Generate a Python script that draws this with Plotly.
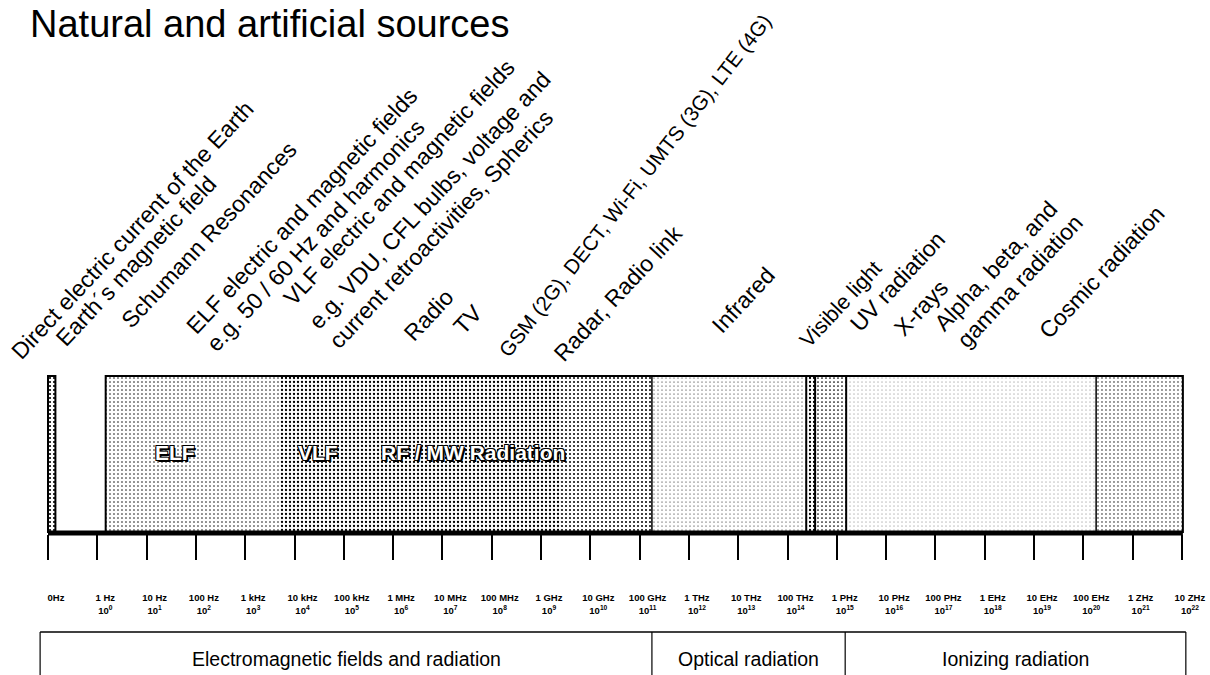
import plotly.graph_objects as go

# ---------------- data ----------------
freq_names = ["0Hz", "1 Hz", "10 Hz", "100 Hz", "1 kHz", "10 kHz", "100 kHz", "1 MHz",
              "10 MHz", "100 MHz", "1 GHz", "10 GHz", "100 GHz", "1 THz", "10 THz",
              "100 THz", "1 PHz", "10 PHz", "100 PHz", "1 EHz", "10 EHz", "100 EHz",
              "1 ZHz", "10 ZHz"]
freq_exponents = [None] + list(range(0, 23))

# spectrum zones in decade positions (0 = 0 Hz, n = 10^(n-1) Hz)
zone_start = [0.00, 1.17, 4.70, 10.40, 12.25, 15.38, 15.56, 16.19, 21.26]
zone_end = [0.15, 4.70, 10.40, 12.25, 15.38, 15.56, 16.19, 21.26, 23.02]
zone_density = [0.22, 0.12, 0.26, 0.20, 0.06, 0.25, 0.15, 0.04, 0.10]

band_names = ["ELF", "VLF", "RF / MW Radiation"]
band_pos = [2.58, 5.48, 8.62]

source_names = ["Direct electric current of the Earth", "Earth\u00b4s magnetic field",
                "Schumann Resonances", "ELF electric and magnetic fields",
                "e.g. 50 / 60 Hz and harmonics", "VLF electric and magnetic fields",
                "e.g. VDU, CFL bulbs, voltage and", "current retroactivities, Spherics",
                "Radio", "TV", "GSM (2G), DECT, Wi-Fi, UMTS (3G), LTE (4G)",
                "Radar, Radio link", "Infrared", "Visible light", "UV radiation", "X-rays",
                "Alpha, beta, and", "gamma radiation", "Cosmic radiation"]
source_pos = [-0.91, 0.00, 1.32, 2.64, 3.06, 4.62, 5.13, 5.54, 7.06, 8.07, 8.99,
              10.10, 13.31, 15.11, 16.11, 17.00, 17.81, 18.28, 19.94]

group_names = ["Electromagnetic fields and radiation", "Optical radiation", "Ionizing radiation"]
group_start = [-0.16, 12.25, 16.17]
group_end = [12.25, 16.17, 23.08]

# ---------------- layout constants ----------------
W, H = 1210, 675
X0, DX = 48.0, 49.3          # pixel of the 0 Hz tick and pixel per decade


def Y(py):                  # pixel-from-top -> y data
    return H - py


source_bottom = [367, 354, 336, 342, 359, 313, 337, 356, 349, 342, 364, 369,
                 341, 355, 339, 344, 339, 355, 346]
# per-label text size / angle (the scanned original is not perfectly uniform)
source_size = [23] * 10 + [20.5] + [23] * 2 + [21.5] + [23] * 5
source_angle = [-47] * 10 + [-52] + [-47] * 8
BOX_TOP, BASE = 376, 532
FONT = "Liberation Sans, Arial, sans-serif"

fig = go.Figure()

# stippled spectrum zones
fig.add_trace(go.Bar(
    x=[(s + e) / 2 for s, e in zip(zone_start, zone_end)],
    width=[e - s for s, e in zip(zone_start, zone_end)],
    base=[Y(BASE)] * len(zone_start),
    y=[BASE - BOX_TOP] * len(zone_start),
    marker=dict(color="white", line=dict(width=0),
                pattern=dict(shape=".", fgcolor="black", bgcolor="white",
                             size=4, solidity=zone_density, fillmode="replace")),
    hoverinfo="skip", showlegend=False))

shapes = []
line_k = dict(color="black", width=2)
# main box outline and DC box
shapes.append(dict(type="rect", xref="x", yref="y", x0=zone_start[1], x1=zone_end[-1],
                   y0=Y(BASE), y1=Y(BOX_TOP), line=line_k))
shapes.append(dict(type="rect", xref="x", yref="y", x0=zone_start[0], x1=zone_end[0],
                   y0=Y(BASE), y1=Y(BOX_TOP), line=line_k))
# dividers between zones
for i, b in enumerate(zone_start[4:]):
    shapes.append(dict(type="line", xref="x", yref="y", x0=b, x1=b,
                       y0=Y(BASE), y1=Y(BOX_TOP),
                       line=dict(color="black", width=2 if i in (1, 2, 3) else 1.5)))
# baseline
shapes.append(dict(type="line", xref="x", yref="y", x0=0, x1=zone_end[-1],
                   y0=Y(BASE + 1), y1=Y(BASE + 1), line=dict(color="black", width=5)))
# bottom group boxes
GTOP = 632
shapes.append(dict(type="line", xref="x", yref="y", x0=group_start[0], x1=group_end[-1],
                   y0=Y(GTOP), y1=Y(GTOP), line=dict(color="black", width=1.5)))
for b in group_start + [group_end[-1]]:
    shapes.append(dict(type="line", xref="x", yref="y", x0=b, x1=b, y0=Y(GTOP), y1=0,
                       line=dict(color="black", width=1.2)))

annotations = []
# title
annotations.append(dict(text="Natural and artificial sources", xref="paper", yref="y",
                        x=28 / W, y=Y(24), xanchor="left", yanchor="middle", showarrow=False,
                        font=dict(family=FONT, size=38, color="black")))
# sources (rotated)
for name, p, b, fs, ang in zip(source_names, source_pos, source_bottom, source_size,
                               source_angle):
    annotations.append(dict(text=name, xref="x", yref="y", x=p, y=Y(b), xanchor="left",
                            yanchor="bottom", textangle=ang, showarrow=False,
                            font=dict(family=FONT, size=fs, color="black")))
# band names (outlined)
for name, p in zip(band_names, band_pos):
    annotations.append(dict(text=name, xref="x", yref="y", x=p, y=Y(452), showarrow=False,
                            xanchor="center", yanchor="middle",
                            font=dict(family=FONT, size=21, color="white", weight="bold",
                                      shadow="-1px -1px 0 #000, 1px -1px 0 #000, "
                                             "-1px 1px 0 #000, 1px 1px 0 #000, "
                                             "2px 2px 0 #000")))
# group names
for name, s, e in zip(group_names, group_start, group_end):
    annotations.append(dict(text=name, xref="x", yref="y", x=(s + e) / 2, y=Y(659),
                            showarrow=False, xanchor="center", yanchor="middle",
                            font=dict(family=FONT, size=19.5, color="black")))

ticktext = [n if e is None else f"{n}<br>10<sup>{e}</sup>"
            for n, e in zip(freq_names, freq_exponents)]

fig.update_layout(
    width=W, height=H, autosize=False,
    margin=dict(l=0, r=0, t=0, b=0),
    paper_bgcolor="white", plot_bgcolor="white",
    barmode="overlay", bargap=0,
    shapes=shapes, annotations=annotations,
    xaxis=dict(range=[-X0 / DX, (W - X0) / DX], domain=[0, 1],
               anchor="free", position=Y(BASE + 2) / H, side="bottom",
               tickmode="array", tickvals=list(range(len(freq_names))), ticktext=ticktext,
               ticks="outside", ticklen=25, tickwidth=2, tickcolor="black",
               tickfont=dict(family=FONT, size=9.5, color="black", weight="bold"),
               ticklabelstandoff=30, ticklabelshift=8,
               showline=False, showgrid=False, zeroline=False, fixedrange=True),
    yaxis=dict(range=[0, H], domain=[0, 1], visible=False, fixedrange=True),
)

fig.write_html("out.html", config={"displayModeBar": False, "staticPlot": True},
               post_script="document.body.style.margin='0';")
